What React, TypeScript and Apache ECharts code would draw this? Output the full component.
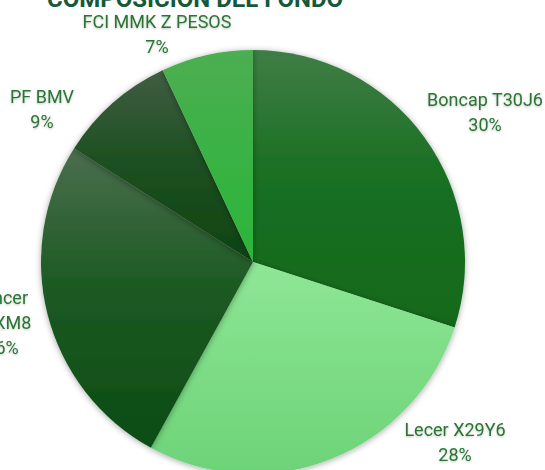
import React, { useEffect, useRef } from "react";
import * as echarts from "echarts";

const TITLE = "COMPOSICIÓN DEL FONDO";
const categories = ["Boncap T30J6", "Lecer X29Y6", "Boncer TZXM8", "PF BMV", "FCI MMK Z PESOS"];
const values = [30, 28, 26, 9, 7];

// styles (not data)
const gradients: string[][] = [
  ["#3f7d46", "#1a6f22", "#116a1c"],
  ["#8fe796", "#7edd87", "#6dd378"],
  ["#4b6e4e", "#1d5a23", "#0b4c13"],
  ["#405d42", "#1f5022", "#0d4311"],
  ["#4cae52", "#3bb245", "#2bb53a"],
];
const labelCenters: [number, number][] = [
  [485, 112],
  [455, 442],
  [2, 322],
  [42, 109],
  [157, 34],
];
const labelWrap: (number | undefined)[] = [undefined, undefined, 62, undefined, undefined];

export default function App() {
  const ref = useRef<HTMLDivElement>(null);
  useEffect(() => {
    if (!ref.current) return;
    const chart = echarts.init(ref.current, undefined, { renderer: "svg" });
    const data = categories.map((name, i) => ({
      name,
      value: values[i],
      itemStyle: {
        color: new echarts.graphic.LinearGradient(0, 0, 0, 1, [
          { offset: 0, color: gradients[i][0] },
          { offset: 0.45, color: gradients[i][1] },
          { offset: 1, color: gradients[i][2] },
        ]),
      },
      label: labelWrap[i] ? { width: labelWrap[i], overflow: "break" } : {},
    }));
    chart.setOption({
      animation: false,
      title: {
        text: TITLE,
        left: 42,
        top: -18,
        textStyle: {
          fontFamily: "Roboto",
          fontSize: 24,
          fontWeight: "bold",
          color: "#16593a",
        },
      },
      series: [
        {
          type: "pie",
          center: [253, 262],
          radius: 212,
          startAngle: 90,
          clockwise: true,
          avoidLabelOverlap: false,
          data,
          itemStyle: {
            shadowBlur: 6,
            shadowColor: "rgba(0,0,0,0.35)",
            shadowOffsetY: 1,
          },
          label: {
            show: true,
            position: "outside",
            formatter: (p: any) => `${p.name}\n${p.value}%`,
            fontFamily: "Roboto",
            fontSize: 18,
            lineHeight: 25,
            color: "#2b7534",
            textShadowColor: "rgba(0,0,0,0.25)",
            textShadowBlur: 2,
            textShadowOffsetY: 1,
          },
          labelLine: { show: false },
          labelLayout: (p: any) => {
            const c = labelCenters[p.dataIndex];
            return { x: c[0], y: c[1], align: "center", verticalAlign: "middle" };
          },
          emphasis: { disabled: true },
        },
      ],
    });
    return () => chart.dispose();
  }, []);
  return (
    <div
      ref={ref}
      style={{ position: "fixed", left: 0, top: 0, width: 545, height: 470, background: "#fff" }}
    />
  );
}
